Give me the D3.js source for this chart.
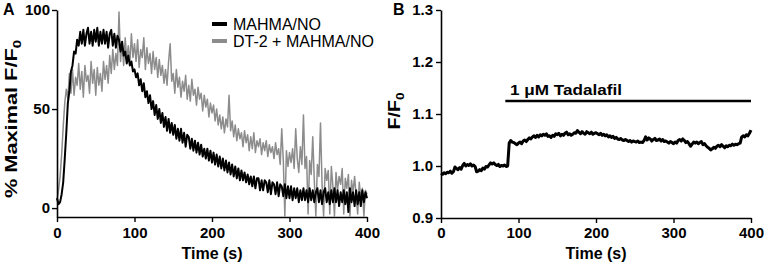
<!DOCTYPE html>
<html>
<head>
<meta charset="utf-8">
<script src="https://cdn.jsdelivr.net/npm/d3@7"></script>
<style>
  html, body { margin: 0; padding: 0; background: #fff; }
  svg { display: block; font-family: "Liberation Sans", Arial, Helvetica, sans-serif; }
</style>
</head>
<body>
<svg id="chart" width="768" height="269"></svg>
<script>
// ---------- DATA ----------
// Panel A: sampled every 2 s from 0 to 400 s
const timeStepA = 2;
const mahmaNO = [
  5, 2, 3, 7, 13,   25, 38, 53, 59, 69,   72, 79, 78, 85, 82,   89, 83, 90, 82, 88,
  91, 83, 89, 82, 90,   84, 91, 82, 89, 83,   90, 83, 89, 81, 88,   90, 82, 88, 81, 87,
  85, 79, 84, 77, 79,   73, 77, 72, 74, 69,   70, 66, 68, 62, 65,   59, 63, 56, 59, 53,
  57, 50, 54, 47, 52,   45, 50, 43, 48, 41,   46, 39, 45, 38, 43,   37, 42, 35, 40, 34,
  40, 33, 38, 31, 37,   36, 30, 35, 29, 34,   28, 33, 27, 32, 26,   30, 25, 30, 24, 29,
  23, 28, 22, 27, 21,   26, 20, 25, 19, 24,   18, 23, 17, 22, 16,   21, 15, 20, 14, 19,
  14, 18, 13, 17, 12,   16, 11, 16, 10, 15,   15, 9, 14, 9, 14,   13, 8, 14, 7, 13,
  12, 7, 13, 6, 12,   11, 6, 12, 5, 11,   5, 11, 4, 10, 5,   10, 3, 9, 4, 10,
  4, 9, 3, 10, 4,   9, 3, 8, 10, 3,   9, 2, 8, 10, 3,   8, 2, 9, 3, 10,
  3, 9, 1, 8, 3,   9, 2, 8, -2, 10,   3, 8, 1, 9, 2,   8, 1, 9, 3, 8,
  5
];
const dt2MahmaNO = [
  4, 9, 16, 27, 41,   53, 60, 55, 68, 58,   70, 57, 66, 62, 73,   60, 69, 56, 72, 64,
  67, 58, 74, 63, 70,   57, 71, 62, 68, 59,   74, 65, 72, 63, 77,   68, 80, 70, 78, 72,
  99, 74, 84, 72, 86,   75, 82, 73, 88, 76,   83, 74, 85, 71, 80,   76, 86, 70, 81, 73,
  78, 68, 79, 70, 76,   66, 75, 67, 72, 63,   70, 62, 74, 83, 64,   68, 58, 70, 61, 66,
  56, 64, 59, 67, 55,   62, 54, 65, 57, 60,   52, 61, 55, 58, 49,   57, 51, 55, 46, 53,
  48, 52, 44, 50, 42,   47, 40, 46, 38, 45,   41, 57, 39, 44, 36,   42, 34, 40, 35, 38,
  31, 39, 33, 37, 29,   36, 30, 38, 28, 34,   31, 35, 27, 33, 29,   34, 26, 32, 28, 31,
  25, 33, 27, 30, 22,   40, 24, -4, 29, 21,   28, 23, 30, 20, 40,   25, 18, 31, 22, 47,
  20, 26, -3, 24, 17,   36, 14, -4, 22, 16,   43, 12, -4, 20, 14,   19, -3, 21, 11, -4,
  18, 9, 16, 12, 20,   -3, 15, 10, 17, -4,   14, 8, 16, 6, -3,   13, 5, 10, -4, 9,
  7
];
// Panel B: sampled every 2 s from 0 to 400 s
const timeStepB = 2;
const tadalafilRatio = [
  0.986, 0.984, 0.987, 0.985, 0.988,   0.987, 0.990, 0.986, 0.989, 0.998,
  0.995, 0.993, 0.997, 0.994, 1.001,   1.005, 1.000, 1.003, 1.001, 1.004,
  1.000, 1.002, 0.999, 0.989, 0.990,   0.993, 0.991, 0.996, 0.994, 0.999,
  0.998, 1.002, 1.006, 1.004, 1.006,   1.003, 1.001, 1.003, 0.999, 1.001,
  1.000, 1.002, 0.999, 1.000, 1.044,   1.049, 1.046, 1.045, 1.043, 1.041,
  1.044, 1.046, 1.043, 1.048, 1.050,   1.047, 1.051, 1.054, 1.052, 1.056,
  1.058, 1.055, 1.059, 1.056, 1.060,   1.058, 1.061, 1.059, 1.062, 1.057,
  1.058, 1.055, 1.059, 1.057, 1.062,   1.060, 1.063, 1.058, 1.061, 1.059,
  1.063, 1.065, 1.060, 1.062, 1.059,   1.061, 1.064, 1.063, 1.068, 1.065,
  1.062, 1.066, 1.063, 1.061, 1.066,   1.064, 1.062, 1.065, 1.061, 1.063,
  1.064, 1.062, 1.060, 1.063, 1.059,   1.061, 1.058, 1.060, 1.056, 1.058,
  1.055, 1.057, 1.053, 1.055, 1.052,   1.051, 1.053, 1.050, 1.049, 1.051,
  1.049, 1.047, 1.049, 1.046, 1.048,   1.047, 1.046, 1.048, 1.045, 1.046,
  1.045, 1.049, 1.056, 1.050, 1.054,   1.052, 1.048, 1.051, 1.053, 1.049,
  1.050, 1.052, 1.048, 1.051, 1.047,   1.048, 1.046, 1.044, 1.047, 1.045,
  1.043, 1.046, 1.044, 1.049, 1.051,   1.048, 1.052, 1.049, 1.045, 1.047,
  1.043, 1.038, 1.042, 1.046, 1.044,   1.046, 1.043, 1.045, 1.047, 1.041,
  1.043, 1.039, 1.036, 1.034, 1.031,   1.033, 1.036, 1.034, 1.038, 1.040,
  1.037, 1.041, 1.038, 1.035, 1.039,   1.037, 1.040, 1.039, 1.042, 1.040,
  1.042, 1.041, 1.043, 1.044, 1.056,   1.058, 1.056, 1.060, 1.058, 1.063,
  1.069
];
const xTicks = [0, 100, 200, 300, 400];
const yTicksA = [0, 50, 100];
const yTicksB = [0.9, 1.0, 1.1, 1.2, 1.3];
const seriesNamesA = ["MAHMA/NO", "DT-2 + MAHMA/NO"];
const treatment = { label: "1 \u03BCM Tadalafil", start: 83, end: 400, level: 1.125 };

// ---------- DRAW ----------
const svg = d3.select("#chart");
svg.append("rect").attr("width", 768).attr("height", 269).attr("fill", "#fff");

const BLACK = "#000";
const GRAY = "#8c8c8c";

function styleAxis(g, fontSize) {
  g.select(".domain").attr("stroke", BLACK).attr("stroke-width", 1.6);
  g.selectAll(".tick line").attr("stroke", BLACK).attr("stroke-width", 1.4);
  g.selectAll(".tick text").attr("fill", BLACK)
    .style("font-size", fontSize + "px").style("font-weight", "bold")
    .style("font-family", '"Liberation Sans", Arial, sans-serif');
}

// ----- Panel A -----
const xA = d3.scaleLinear().domain([0, 400]).range([57, 367]);
const yA = d3.scaleLinear().domain([-4.5, 100]).range([217, 10]);

const lineA = d3.line()
  .x((d, i) => xA(i * timeStepA))
  .y(d => yA(d));

svg.append("path").datum(dt2MahmaNO)
  .attr("d", lineA).attr("fill", "none")
  .attr("stroke", GRAY).attr("stroke-width", 1.5).attr("stroke-linejoin", "round");
svg.append("path").datum(mahmaNO)
  .attr("d", lineA).attr("fill", "none")
  .attr("stroke", BLACK).attr("stroke-width", 2).attr("stroke-linejoin", "round");

const gxA = svg.append("g").attr("transform", "translate(0,217)")
  .call(d3.axisBottom(xA).tickValues(xTicks).tickSize(5).tickSizeOuter(0).tickPadding(5));
styleAxis(gxA, 15);
const gyA = svg.append("g").attr("transform", "translate(57,0)")
  .call(d3.axisLeft(yA).tickValues(yTicksA).tickSize(5).tickSizeOuter(0).tickPadding(2));
styleAxis(gyA, 15);

svg.append("text").attr("x", 212).attr("y", 259).attr("text-anchor", "middle")
  .style("font-size", "16px").style("font-weight", "bold").text("Time (s)");

const ylabA = svg.append("text")
  .attr("transform", "translate(17,119) rotate(-90)")
  .attr("text-anchor", "middle")
  .attr("textLength", 158).attr("lengthAdjust", "spacingAndGlyphs")
  .style("font-size", "16px").style("font-weight", "bold");
ylabA.append("tspan").text("% Maximal F/F");
ylabA.append("tspan").attr("dy", 4).style("font-size", "11px").text("0");

svg.append("text").attr("x", 3).attr("y", 15)
  .style("font-size", "16px").style("font-weight", "bold").text("A");

// legend
const legendColors = [BLACK, GRAY];
const legendY = [24, 41];
seriesNamesA.forEach((name, i) => {
  svg.append("line").attr("x1", 212).attr("x2", 227)
    .attr("y1", legendY[i]).attr("y2", legendY[i])
    .attr("stroke", legendColors[i]).attr("stroke-width", 4);
  svg.append("text").attr("x", 233).attr("y", legendY[i] + 6)
    .style("font-size", "16px").attr("fill", BLACK).text(name);
});

// ----- Panel B -----
const xB = d3.scaleLinear().domain([0, 400]).range([441, 751]);
const yB = d3.scaleLinear().domain([0.9, 1.3]).range([218, 10]);

const lineB = d3.line()
  .x((d, i) => xB(i * timeStepB))
  .y(d => yB(d));

svg.append("path").datum(tadalafilRatio)
  .attr("d", lineB).attr("fill", "none")
  .attr("stroke", BLACK).attr("stroke-width", 3).attr("stroke-linejoin", "round");

const gxB = svg.append("g").attr("transform", "translate(0,218)")
  .call(d3.axisBottom(xB).tickValues(xTicks).tickSize(5).tickSizeOuter(0).tickPadding(4));
styleAxis(gxB, 15);
const gyB = svg.append("g").attr("transform", "translate(441,0)")
  .call(d3.axisLeft(yB).tickValues(yTicksB).tickSize(5).tickSizeOuter(0).tickPadding(3)
    .tickFormat(d3.format(".1f")));
styleAxis(gyB, 15);

svg.append("text").attr("x", 596).attr("y", 259).attr("text-anchor", "middle")
  .style("font-size", "16px").style("font-weight", "bold").text("Time (s)");

const ylabB = svg.append("text")
  .attr("transform", "translate(400,111) rotate(-90)")
  .attr("text-anchor", "middle")
  .attr("textLength", 37).attr("lengthAdjust", "spacingAndGlyphs")
  .style("font-size", "16px").style("font-weight", "bold");
ylabB.append("tspan").text("F/F");
ylabB.append("tspan").attr("dy", 4).style("font-size", "11px").text("0");

svg.append("text").attr("x", 393).attr("y", 15)
  .style("font-size", "16px").style("font-weight", "bold").text("B");

// treatment bar
svg.append("line")
  .attr("x1", xB(treatment.start)).attr("x2", xB(treatment.end))
  .attr("y1", yB(treatment.level)).attr("y2", yB(treatment.level))
  .attr("stroke", BLACK).attr("stroke-width", 2.5);
svg.append("text").attr("x", 510).attr("y", 95)
  .attr("textLength", 112).attr("lengthAdjust", "spacingAndGlyphs")
  .style("font-size", "15px").style("font-weight", "bold").text(treatment.label);
</script>
</body>
</html>
